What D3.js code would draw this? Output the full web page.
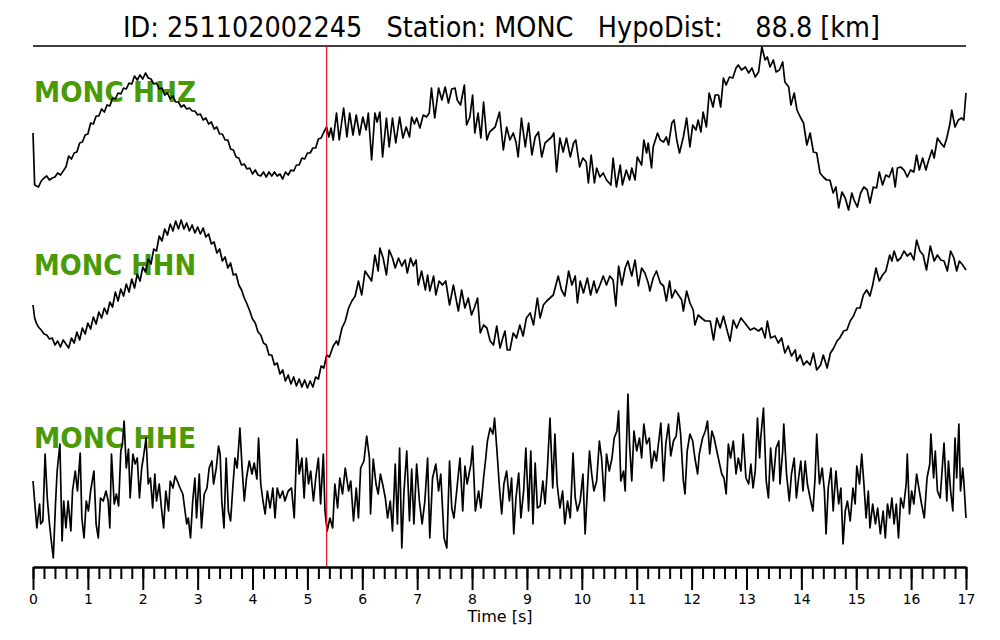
<!DOCTYPE html>
<html>
<head>
<meta charset="utf-8">
<script src="https://cdn.jsdelivr.net/npm/d3@7"></script>
<style>
  body { margin: 0; background: #fff; }
  svg { display: block; }
</style>
</head>
<body>
<svg id="canvas"></svg>
<script>
// event info
const eventId = '251102002245'
const station = 'MONC'
const hypoDist = 88.8
const channels = ['HHZ', 'HHN', 'HHE']
const pickTime = 5.35
const majorTicks = [0, 1, 2, 3, 4, 5, 6, 7, 8, 9, 10, 11, 12, 13, 14, 15, 16, 17]
const minorTicks = d3.range(0, 17.01, 0.2)

// traces: [time (s), normalised amplitude]
const hhz = [[0,-3],[0.03,-55],[0.1,-57],[0.15,-51],[0.2,-48],[0.25,-46],[0.3,-50],[0.35,-48],[0.4,-47],[0.45,-43],[0.5,-45],[0.55,-41],[0.6,-37],[0.65,-26],[0.7,-29],[0.75,-23],[0.8,-22],[0.85,-13],[0.9,-12],[0.95,-5],[1.0,-4],[1.05,7],[1.1,6],[1.15,14],[1.2,14],[1.25,21],[1.3,18],[1.35,25],[1.4,24],[1.45,32],[1.5,31],[1.55,37],[1.6,36],[1.65,42],[1.7,41],[1.75,47],[1.8,46],[1.85,54],[1.9,50],[1.95,55],[2.0,51],[2.05,57],[2.1,52],[2.15,51],[2.2,46],[2.25,47],[2.3,41],[2.35,42],[2.4,35],[2.45,37],[2.5,31],[2.55,34],[2.6,28],[2.65,28],[2.7,23],[2.75,25],[2.8,21],[2.85,22],[2.9,19],[2.95,19],[3.0,15],[3.05,16],[3.1,10],[3.15,12],[3.2,6],[3.25,8],[3.3,1],[3.35,3],[3.4,-4],[3.45,-4],[3.5,-10],[3.55,-10],[3.6,-19],[3.65,-20],[3.7,-27],[3.75,-28],[3.8,-35],[3.85,-34],[3.9,-39],[3.95,-38],[4.0,-44],[4.05,-40],[4.1,-45],[4.15,-46],[4.2,-42],[4.25,-47],[4.3,-42],[4.35,-46],[4.4,-42],[4.45,-46],[4.5,-44],[4.55,-49],[4.6,-42],[4.65,-45],[4.7,-40],[4.75,-41],[4.8,-35],[4.85,-35],[4.9,-28],[4.95,-29],[5.0,-23],[5.05,-23],[5.1,-18],[5.15,-18],[5.2,-9],[5.25,-8],[5.3,-2],[5.35,3],[5.39,-7],[5.43,2],[5.47,-10],[5.53,17],[5.58,-10],[5.66,22],[5.72,-7],[5.77,17],[5.83,-5],[5.89,15],[5.95,-5],[6.01,13],[6.07,0],[6.11,17],[6.17,-30],[6.23,17],[6.27,8],[6.32,18],[6.37,-27],[6.44,12],[6.49,-17],[6.55,12],[6.61,-13],[6.68,13],[6.74,-8],[6.80,3],[6.86,-7],[6.90,13],[6.95,6],[6.99,12],[7.05,2],[7.11,15],[7.17,13],[7.22,17],[7.26,42],[7.32,12],[7.39,42],[7.45,30],[7.51,43],[7.57,27],[7.63,41],[7.69,42],[7.73,30],[7.79,25],[7.86,45],[7.90,5],[7.96,13],[8.01,35],[8.05,-3],[8.11,17],[8.16,-8],[8.21,28],[8.27,-10],[8.32,-2],[8.36,0],[8.42,3],[8.50,18],[8.57,-20],[8.63,3],[8.69,-10],[8.75,-3],[8.80,-12],[8.84,-27],[8.90,12],[8.97,-17],[9.03,7],[9.09,-25],[9.15,-7],[9.21,-2],[9.27,-27],[9.33,-13],[9.39,-10],[9.45,-7],[9.49,-3],[9.54,-42],[9.60,-8],[9.66,-22],[9.72,-8],[9.79,-27],[9.85,-13],[9.89,-10],[9.96,-37],[10.02,-28],[10.08,-32],[10.12,-53],[10.17,-25],[10.23,-53],[10.27,-38],[10.33,-47],[10.39,-43],[10.45,-50],[10.53,-55],[10.57,-28],[10.63,-57],[10.70,-35],[10.74,-55],[10.81,-40],[10.87,-50],[10.91,-38],[10.97,-50],[11.01,-27],[11.09,-35],[11.13,-10],[11.18,-23],[11.21,-13],[11.27,-38],[11.30,-17],[11.38,-3],[11.43,-10],[11.49,-12],[11.54,-7],[11.58,-15],[11.64,7],[11.68,10],[11.73,-10],[11.78,-23],[11.85,-7],[11.91,12],[11.97,-17],[12.02,5],[12.08,0],[12.12,10],[12.17,-2],[12.21,18],[12.27,3],[12.32,37],[12.39,23],[12.43,35],[12.49,35],[12.53,23],[12.58,52],[12.63,45],[12.69,53],[12.75,52],[12.81,62],[12.85,65],[12.91,60],[12.98,63],[13.04,57],[13.10,62],[13.16,53],[13.22,58],[13.28,83],[13.34,70],[13.38,73],[13.43,63],[13.49,70],[13.54,58],[13.60,60],[13.66,68],[13.70,48],[13.77,43],[13.81,25],[13.87,37],[13.92,20],[13.98,13],[14.04,7],[14.10,-15],[14.16,-3],[14.22,-22],[14.28,-23],[14.34,-43],[14.40,-47],[14.46,-50],[14.52,-50],[14.58,-63],[14.63,-57],[14.68,-78],[14.74,-62],[14.80,-68],[14.86,-80],[14.92,-63],[14.96,-70],[15.02,-77],[15.08,-63],[15.14,-57],[15.20,-60],[15.25,-73],[15.31,-57],[15.37,-58],[15.42,-42],[15.48,-55],[15.54,-45],[15.60,-47],[15.66,-38],[15.71,-57],[15.75,-38],[15.81,-37],[15.87,-40],[15.93,-47],[15.99,-40],[16.05,-42],[16.10,-25],[16.15,-40],[16.21,-28],[16.27,-40],[16.31,-32],[16.38,-20],[16.42,-28],[16.48,-8],[16.54,-13],[16.60,-17],[16.65,-8],[16.71,7],[16.74,20],[16.80,3],[16.86,10],[16.92,12],[16.96,10],[17.0,37]]

const hhn = [[0,-2],[0.03,-15],[0.06,-20],[0.1,-24],[0.15,-27],[0.2,-31],[0.25,-32],[0.3,-36],[0.35,-35],[0.4,-42],[0.45,-38],[0.5,-44],[0.55,-37],[0.6,-41],[0.65,-45],[0.7,-35],[0.75,-40],[0.8,-29],[0.85,-37],[0.9,-25],[0.95,-31],[1.0,-20],[1.05,-26],[1.1,-14],[1.15,-21],[1.2,-9],[1.25,-15],[1.3,-5],[1.35,-11],[1.4,1],[1.45,-4],[1.5,11],[1.55,2],[1.6,14],[1.65,7],[1.7,19],[1.75,11],[1.8,24],[1.85,15],[1.9,29],[1.95,22],[2.0,36],[2.05,31],[2.1,44],[2.15,39],[2.2,54],[2.25,52],[2.3,67],[2.35,62],[2.4,74],[2.45,68],[2.5,79],[2.55,72],[2.6,82],[2.65,74],[2.7,83],[2.75,74],[2.8,80],[2.85,72],[2.9,78],[2.95,70],[3.0,76],[3.05,69],[3.1,75],[3.15,66],[3.2,69],[3.25,59],[3.3,61],[3.35,50],[3.4,54],[3.45,42],[3.5,46],[3.55,35],[3.6,40],[3.65,28],[3.7,29],[3.75,18],[3.8,13],[3.85,5],[3.9,-1],[3.95,-8],[4.0,-16],[4.05,-20],[4.1,-29],[4.15,-32],[4.2,-40],[4.25,-42],[4.3,-52],[4.35,-52],[4.4,-62],[4.45,-60],[4.5,-71],[4.55,-67],[4.6,-78],[4.65,-72],[4.7,-81],[4.75,-74],[4.8,-83],[4.85,-76],[4.9,-84],[4.95,-77],[5.0,-85],[5.05,-78],[5.1,-84],[5.15,-74],[5.2,-76],[5.25,-63],[5.3,-65],[5.35,-52],[5.4,-54],[5.47,-43],[5.53,-38],[5.56,-42],[5.63,-25],[5.69,-18],[5.75,-5],[5.81,2],[5.87,7],[5.93,22],[5.99,8],[6.05,32],[6.11,27],[6.17,22],[6.23,48],[6.29,32],[6.32,55],[6.38,45],[6.44,28],[6.49,53],[6.55,45],[6.60,35],[6.66,45],[6.72,37],[6.78,43],[6.82,30],[6.88,45],[6.93,37],[6.98,43],[7.02,18],[7.08,32],[7.15,13],[7.19,28],[7.23,12],[7.30,27],[7.34,8],[7.40,22],[7.46,18],[7.52,22],[7.59,-2],[7.66,18],[7.75,-8],[7.81,13],[7.87,-5],[7.93,5],[7.99,-12],[8.04,-5],[8.10,5],[8.15,-30],[8.21,-22],[8.27,-25],[8.33,-38],[8.39,-42],[8.45,-23],[8.51,-45],[8.56,-35],[8.60,-28],[8.64,-47],[8.69,-47],[8.75,-30],[8.81,-35],[8.87,-22],[8.93,-33],[8.99,-15],[9.06,-10],[9.12,-22],[9.19,5],[9.24,-15],[9.30,-2],[9.36,2],[9.42,5],[9.48,8],[9.57,27],[9.63,13],[9.69,7],[9.76,32],[9.82,18],[9.88,27],[9.92,0],[9.97,22],[10.03,10],[10.10,25],[10.16,8],[10.22,22],[10.27,10],[10.33,18],[10.39,27],[10.45,18],[10.51,27],[10.57,23],[10.62,-3],[10.67,37],[10.73,18],[10.79,35],[10.84,42],[10.91,27],[10.97,43],[11.03,17],[11.09,35],[11.15,30],[11.21,20],[11.24,12],[11.30,25],[11.36,32],[11.43,20],[11.49,17],[11.54,2],[11.60,22],[11.64,5],[11.70,13],[11.76,8],[11.82,3],[11.85,-8],[11.91,12],[11.97,0],[12.03,-7],[12.06,-22],[12.12,-12],[12.18,-15],[12.25,-18],[12.34,-18],[12.40,-37],[12.46,-15],[12.52,-25],[12.58,-13],[12.65,-28],[12.70,-38],[12.76,-17],[12.82,-25],[12.90,-15],[12.97,-20],[13.07,-27],[13.14,-25],[13.22,-28],[13.28,-25],[13.34,-35],[13.38,-18],[13.44,-35],[13.52,-33],[13.58,-40],[13.64,-35],[13.70,-50],[13.76,-43],[13.82,-53],[13.89,-47],[13.92,-58],[13.98,-52],[14.04,-62],[14.10,-58],[14.16,-62],[14.22,-50],[14.28,-67],[14.35,-62],[14.40,-52],[14.47,-65],[14.53,-50],[14.59,-45],[14.65,-38],[14.70,-35],[14.77,-28],[14.83,-27],[14.89,-18],[14.95,-13],[15.01,-5],[15.07,-5],[15.13,8],[15.19,13],[15.25,7],[15.30,18],[15.36,35],[15.42,22],[15.48,28],[15.54,32],[15.61,48],[15.65,42],[15.69,52],[15.75,42],[15.81,45],[15.87,52],[15.93,47],[15.99,50],[16.05,43],[16.10,63],[16.16,52],[16.22,48],[16.28,33],[16.35,57],[16.42,42],[16.48,48],[16.54,43],[16.60,42],[16.66,32],[16.72,52],[16.78,45],[16.83,32],[16.88,42],[16.94,38],[17.0,33]]

const hhe = [[0,-5],[0.04,-32],[0.07,-52],[0.12,-28],[0.14,-48],[0.18,-45],[0.22,22],[0.26,-22],[0.30,-48],[0.34,-68],[0.37,-82],[0.41,-28],[0.44,5],[0.49,32],[0.53,-65],[0.56,-25],[0.60,-52],[0.64,-25],[0.69,-55],[0.72,-15],[0.77,5],[0.81,-15],[0.86,23],[0.89,-42],[0.93,-62],[0.97,-25],[1.01,-35],[1.05,-15],[1.11,5],[1.15,-48],[1.19,-62],[1.23,-22],[1.28,-25],[1.33,-15],[1.37,-25],[1.40,-52],[1.43,22],[1.48,-28],[1.52,-18],[1.56,-30],[1.60,25],[1.63,32],[1.66,55],[1.70,8],[1.74,27],[1.77,-22],[1.82,22],[1.86,12],[1.90,18],[1.94,-22],[1.98,8],[2.01,18],[2.06,38],[2.10,-8],[2.14,-2],[2.18,-32],[2.22,2],[2.25,-25],[2.30,-8],[2.34,-32],[2.38,-52],[2.42,-15],[2.47,-35],[2.50,-5],[2.55,-12],[2.59,0],[2.63,-5],[2.68,-12],[2.73,-18],[2.77,-35],[2.80,-48],[2.83,-42],[2.87,-62],[2.91,-25],[2.95,-2],[2.98,-42],[3.03,2],[3.07,-52],[3.12,-18],[3.17,-12],[3.21,8],[3.26,15],[3.29,-8],[3.34,8],[3.38,30],[3.41,22],[3.44,-25],[3.48,-52],[3.52,18],[3.56,-35],[3.60,-45],[3.64,-12],[3.68,18],[3.72,8],[3.77,48],[3.81,8],[3.85,-25],[3.89,-2],[3.94,15],[3.99,2],[4.03,13],[4.08,-3],[4.11,38],[4.15,-8],[4.19,-25],[4.23,-38],[4.27,-15],[4.32,-32],[4.37,-12],[4.41,-42],[4.45,-12],[4.50,-22],[4.55,-15],[4.59,-25],[4.65,-15],[4.71,-12],[4.76,-42],[4.81,37],[4.85,2],[4.90,18],[4.94,-22],[4.98,18],[5.02,-8],[5.06,5],[5.11,-25],[5.16,2],[5.20,18],[5.24,-28],[5.29,22],[5.32,-35],[5.36,-55],[5.41,-42],[5.46,-52],[5.50,-8],[5.55,-32],[5.59,-2],[5.64,-18],[5.69,8],[5.75,-15],[5.79,-5],[5.84,-45],[5.89,-12],[5.93,-42],[5.97,8],[6.03,15],[6.08,40],[6.13,18],[6.15,-38],[6.20,17],[6.25,-8],[6.29,-18],[6.33,2],[6.37,-8],[6.42,-22],[6.46,-42],[6.51,-25],[6.55,-55],[6.60,12],[6.64,-48],[6.68,28],[6.72,-72],[6.76,-15],[6.81,25],[6.86,-45],[6.90,7],[6.94,-48],[6.99,12],[7.04,-25],[7.09,-48],[7.14,-25],[7.19,18],[7.23,-62],[7.28,-2],[7.34,12],[7.39,-15],[7.43,2],[7.49,-62],[7.54,-72],[7.59,15],[7.63,-32],[7.67,-42],[7.72,-15],[7.78,18],[7.83,-35],[7.87,10],[7.91,-8],[7.98,12],[8.01,30],[8.06,-35],[8.12,-15],[8.16,-32],[8.21,-2],[8.25,18],[8.28,35],[8.33,48],[8.38,42],[8.41,58],[8.45,28],[8.50,-12],[8.54,-38],[8.58,-8],[8.63,5],[8.68,-25],[8.72,-2],[8.76,-58],[8.80,-22],[8.85,3],[8.89,-42],[8.94,-15],[8.98,28],[9.03,-35],[9.07,25],[9.11,-48],[9.15,13],[9.19,-32],[9.24,-30],[9.29,-5],[9.33,-28],[9.37,5],[9.42,58],[9.47,-12],[9.51,42],[9.55,-8],[9.60,-32],[9.65,-15],[9.69,-48],[9.74,-25],[9.79,-42],[9.84,23],[9.88,-22],[9.92,-35],[9.97,-25],[10.02,2],[10.06,-58],[10.10,-15],[10.14,25],[10.18,2],[10.22,-15],[10.27,-5],[10.32,35],[10.36,18],[10.41,-25],[10.45,22],[10.50,5],[10.55,18],[10.59,38],[10.64,45],[10.67,65],[10.71,-5],[10.76,5],[10.79,-15],[10.84,82],[10.87,32],[10.91,-5],[10.95,45],[11.00,25],[11.05,38],[11.09,18],[11.13,52],[11.18,32],[11.23,38],[11.27,8],[11.32,25],[11.36,15],[11.44,53],[11.49,-5],[11.53,32],[11.58,52],[11.62,20],[11.67,35],[11.72,40],[11.76,63],[11.80,42],[11.85,-5],[11.88,-18],[11.92,25],[11.97,42],[12.02,35],[12.06,18],[12.11,2],[12.14,22],[12.20,38],[12.25,45],[12.29,55],[12.33,22],[12.37,45],[12.41,38],[12.46,25],[12.51,12],[12.55,2],[12.59,-2],[12.63,-18],[12.67,32],[12.71,18],[12.76,35],[12.81,2],[12.85,18],[12.90,5],[12.94,42],[12.99,-2],[13.04,-8],[13.08,12],[13.12,-12],[13.16,5],[13.20,58],[13.24,18],[13.26,38],[13.31,68],[13.36,-5],[13.40,-22],[13.44,28],[13.49,-5],[13.54,28],[13.59,35],[13.61,-8],[13.66,25],[13.68,52],[13.73,2],[13.78,-25],[13.82,2],[13.87,18],[13.91,-22],[13.95,-2],[13.99,15],[14.03,-15],[14.07,15],[14.11,-8],[14.16,-22],[14.21,-35],[14.25,-2],[14.28,42],[14.33,-8],[14.38,8],[14.42,-15],[14.45,-58],[14.49,-12],[14.54,8],[14.58,-35],[14.63,5],[14.68,-28],[14.72,-12],[14.76,-68],[14.80,-35],[14.84,-25],[14.89,-45],[14.94,-12],[14.98,-28],[15.01,10],[15.06,-8],[15.10,22],[15.14,-8],[15.18,-42],[15.22,-15],[15.25,-52],[15.30,-28],[15.35,-48],[15.39,-32],[15.44,-58],[15.49,-35],[15.53,-62],[15.57,-28],[15.61,-42],[15.65,-22],[15.69,-48],[15.73,-28],[15.77,-62],[15.81,-22],[15.86,-32],[15.91,-8],[15.93,22],[15.97,-38],[16.01,-15],[16.05,-28],[16.10,2],[16.15,-15],[16.19,-28],[16.24,-42],[16.29,-2],[16.34,12],[16.36,42],[16.41,-2],[16.44,25],[16.48,-15],[16.53,-22],[16.58,18],[16.60,33],[16.65,-25],[16.68,15],[16.72,-15],[16.76,-35],[16.80,38],[16.83,-2],[16.87,52],[16.90,-15],[16.94,8],[16.96,-5],[17.0,-42]]

const traces = [hhz, hhn, hhe]

const width = 1000
const height = 640
const svg = d3.select('#canvas').attr('width', width).attr('height', height)

const x = d3.scaleLinear().domain([0, 17]).range([33, 966])
const yRow = d3.scalePoint().domain(channels).range([130, 476])
const amp = d3.scaleLinear().domain([-100, 100]).range([100, -100])

// title
svg.append('text')
    .attr('x', 501.5)
    .attr('y', 37)
    .attr('text-anchor', 'middle')
    .style('font-family', 'DejaVu Sans, sans-serif')
    .style('font-size', '28px')
    .style('white-space', 'pre')
    .attr('textLength', 757)
    .attr('lengthAdjust', 'spacingAndGlyphs')
    .text(`ID: ${eventId}   Station: ${station}   HypoDist:    ${hypoDist.toFixed(1)} [km]`)

svg.append('line')
    .attr('x1', x(0)).attr('x2', x(17))
    .attr('y1', 46).attr('y2', 46)
    .attr('stroke', '#000')
    .attr('stroke-width', 1.5)

// channel labels
svg.selectAll('.label')
    .data(channels)
    .enter()
    .append('text')
    .attr('class', 'label')
    .attr('x', 34)
    .attr('y', (ch) => yRow(ch) - 28)
    .attr('textLength', 162)
    .attr('lengthAdjust', 'spacingAndGlyphs')
    .style('font-family', 'DejaVu Sans, sans-serif')
    .style('font-weight', 'bold')
    .style('font-size', '29px')
    .attr('fill', '#4a9a06')
    .text((ch) => station + ' ' + ch)

// traces
traces.forEach((trace, i) => {
    const yc = yRow(channels[i])
    const line = d3.line()
        .x((d) => x(d[0]))
        .y((d) => yc + amp(d[1]))
    svg.append('path')
        .datum(trace)
        .attr('d', line)
        .attr('fill', 'none')
        .attr('stroke', '#000')
        .attr('stroke-width', 1.7)
        .attr('stroke-linejoin', 'round')
})

// P pick
svg.append('line')
    .attr('x1', x(pickTime)).attr('x2', x(pickTime))
    .attr('y1', 46).attr('y2', 567)
    .attr('stroke', '#e8141c')
    .attr('stroke-width', 1.2)

// time axis
const axisY = 567
const minorAxis = d3.axisBottom(x)
    .tickValues(minorTicks)
    .tickSize(12)
    .tickSizeOuter(0)
    .tickFormat('')
const majorAxis = d3.axisBottom(x)
    .tickValues(majorTicks)
    .tickSize(23)
    .tickSizeOuter(0)
    .tickPadding(4)
    .tickFormat(d3.format('d'))

const gMinor = svg.append('g').attr('transform', `translate(0,${axisY})`).call(minorAxis)
const gMajor = svg.append('g').attr('transform', `translate(0,${axisY})`).call(majorAxis)
gMinor.selectAll('line').attr('stroke-width', 2)
gMajor.selectAll('line').attr('stroke-width', 2)
gMinor.select('.domain').attr('stroke-width', 2)
gMajor.select('.domain').attr('stroke-width', 2)
gMajor.selectAll('text')
    .style('font-family', 'DejaVu Sans, sans-serif')
    .style('font-size', '14px')
    .attr('fill', '#000')

svg.append('text')
    .attr('x', 500)
    .attr('y', 622)
    .attr('text-anchor', 'middle')
    .style('font-family', 'DejaVu Sans, sans-serif')
    .style('font-size', '16px')
    .text('Time [s]')
</script>
</body>
</html>
